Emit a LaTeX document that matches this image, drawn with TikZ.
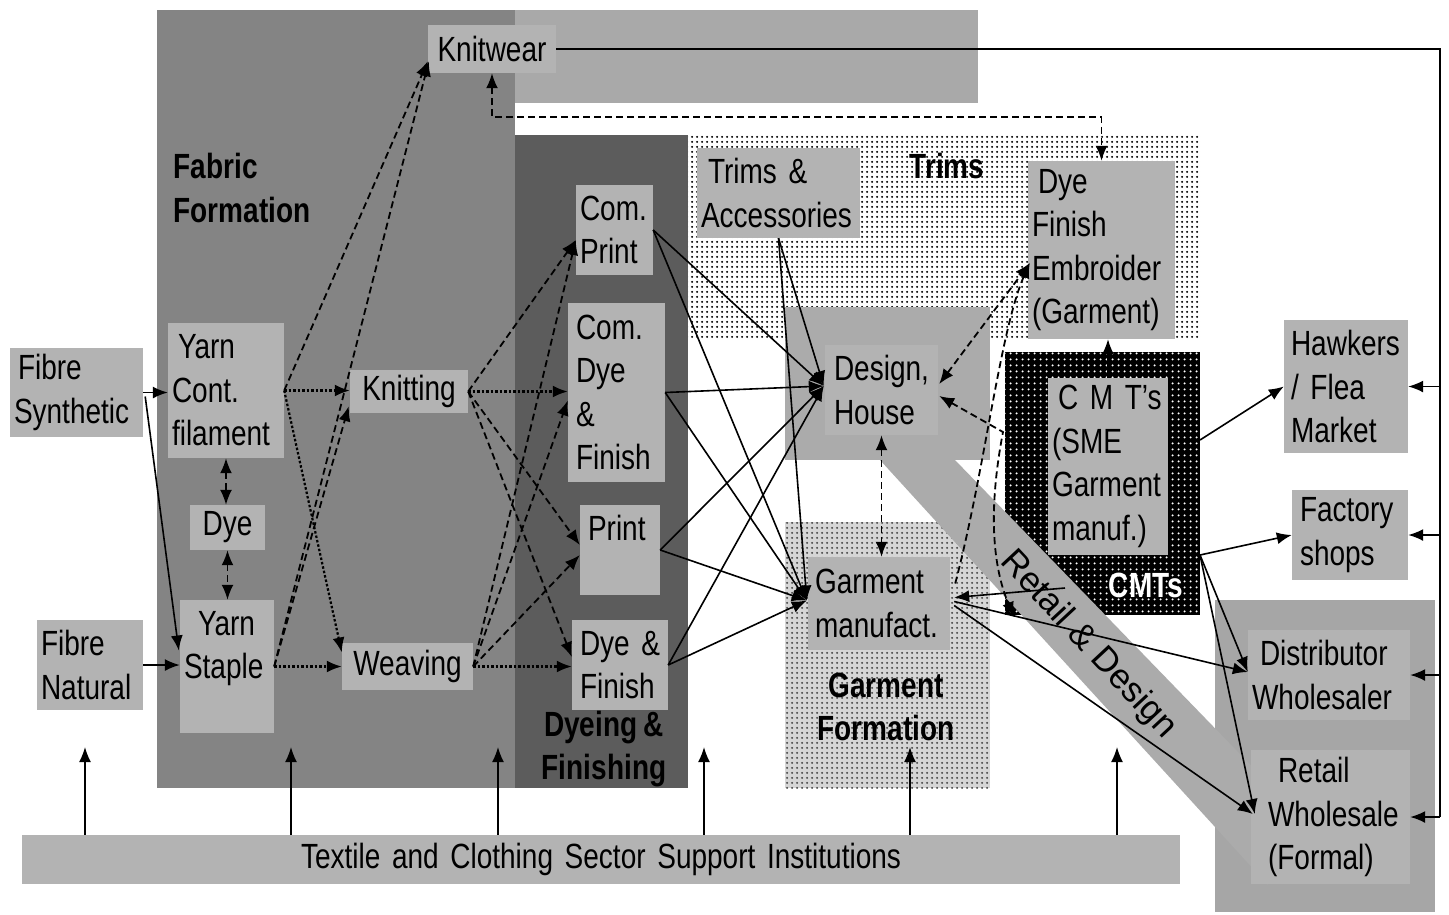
\documentclass[tikz,border=0pt]{standalone}
\usepackage{fontspec}
\setmainfont{Liberation Sans}[FakeStretch=0.8, WordSpace=0.8]
\newfontfamily\widesans{Liberation Sans}
\usetikzlibrary{arrows.meta,calc,patterns.meta}

\definecolor{boxgray}{HTML}{B3B3B3}
\definecolor{fabricgray}{HTML}{848484}
\definecolor{stripgray}{HTML}{A9A9A9}
\definecolor{dyeinggray}{HTML}{5C5C5C}
\definecolor{designgray}{HTML}{ABABAB}
\definecolor{garmentgray}{HTML}{D6D6D6}
\definecolor{retailgray}{HTML}{A6A6A6}

\newcommand\boxfont{\fontsize{35}{43.5}\selectfont}

% dot screens used for the textured areas
\tikzdeclarepattern{
  name=smalldots, type=uncolored,
  bounding box={(0pt,0pt) and (5pt,5pt)},
  tile size={(5pt,5pt)},
  code={\pgfpathcircle{\pgfqpoint{2.5pt}{2.5pt}}{1.35pt}\pgfusepath{fill}}
}
\tikzdeclarepattern{
  name=widedots, type=uncolored,
  bounding box={(0pt,0pt) and (6pt,6pt)},
  tile size={(6pt,6pt)},
  code={\pgfpathcircle{\pgfqpoint{3pt}{3pt}}{1.3pt}\pgfusepath{fill}}
}

\begin{document}
\begin{tikzpicture}[x=1pt,y=-1pt,
  box/.style={fill=boxgray, inner xsep=4pt, inner ysep=0pt, align=left, font=\boxfont},
  cbox/.style={box, align=center},
  tag/.style={font=\boxfont\bfseries, inner sep=0pt},
  arw/.style={-{Latex[length=15pt,width=12pt]}},
  arwtwo/.style={{Latex[length=15pt,width=12pt]}-{Latex[length=15pt,width=12pt]}},
  ln/.style={line width=1.6pt},
  dashln/.style={line width=1.8pt, dash pattern=on 7pt off 4pt},
  dotln/.style={line width=2.2pt, dash pattern=on 2.5pt off 2pt},
]
\useasboundingbox (0,0) rectangle (1449,914);
\fill[white] (0,0) rectangle (1449,914);

% ---- sector areas ----
\fill[fabricgray] (157,10) rectangle (515,788);
\fill[stripgray] (515,10) rectangle (978,103);
\fill[dyeinggray] (515,135) rectangle (688,788);
\fill[white] (688,135) rectangle (1200,338);
\fill[pattern=smalldots, pattern color=black] (688,135) rectangle (1200,338);
\fill[designgray] (785,307) rectangle (990,460);
\fill[garmentgray] (785,522) rectangle (990,788);
\fill[pattern=smalldots, pattern color=black!70] (785,522) rectangle (990,788);
\fill[black] (1005,352) rectangle (1200,615);
\fill[pattern=widedots, pattern color=white] (1005,352) rectangle (1200,615);
\fill[retailgray] (1215,600) rectangle (1435,912);
% Retail & Design band
\fill[designgray] (880,460) -- (955,460) -- (1268,783) -- (1268,885) -- cycle;

% ---- sector titles ----
\node[tag, align=left] (tfabric) at (242,188) {Fabric\\Formation};
\node[tag] (ttrims) at (947,166) {Trims};
\node[tag, align=center] (tdyeing) at (604,749) {Dyeing \&\\Finishing};
\node[tag, align=center] (tgarment) at (886,707) {Garment\\Formation};
\node[tag, text=white] (tcmt) at (1146,585) {CMTs};
\node[font=\widesans\boxfont, rotate=-47, inner sep=0pt] (tband) at (1088,645) {Retail \& Design};

% ---- boxes ----
\node[box, text width=125pt, minimum height=89pt] (fsyn) at (76.5,392.5) {\hspace*{4pt}Fibre\\Synthetic};
\node[box, text width=98pt, minimum height=90pt] (fnat) at (90,665) {Fibre\\Natural};
\node[box, text width=108pt, minimum height=135pt] (ycf) at (226,390.5) {\hspace*{6pt}Yarn\\Cont.\\filament};
\node[cbox, text width=67pt, minimum height=45pt] (dye) at (227.5,527.5) {Dye};
\node[box, text width=86pt, minimum height=133pt] (ystaple) at (227,666.5) {\hspace*{14pt}Yarn\\Staple\\\mbox{}};
\node[cbox, text width=110pt, minimum height=43pt] (knit) at (409,391.5) {Knitting};
\node[cbox, text width=123pt, minimum height=47pt] (weave) at (407.5,666.5) {Weaving};
\node[cbox, text width=120pt, minimum height=48pt] (knitwear) at (492,49) {Knitwear};
\node[box, text width=69pt, minimum height=90pt] (cprint) at (614.5,230) {Com.\\Print};
\node[box, text width=89pt, minimum height=179pt] (cdye) at (616.5,392.5) {\hspace*{4pt}Com.\\\hspace*{4pt}Dye\\\hspace*{4pt}\&\\\hspace*{4pt}Finish};
\node[box, text width=72pt, minimum height=90pt] (print) at (620,550) {\hspace*{4pt}Print\\\mbox{}};
\node[box, text width=88pt, minimum height=90pt] (dyefin) at (620,665) {\hspace*{4pt}Dye \&\\\hspace*{4pt}Finish};
\node[box, text width=155pt, minimum height=90pt] (trims) at (778.5,193) {\hspace*{7pt}Trims \&\\Accessories};
\node[box, text width=105pt, minimum height=90pt] (design) at (881.5,390) {\hspace*{5pt}Design,\\\hspace*{5pt}House};
\node[box, text width=134pt, minimum height=93pt] (garment) at (879,603.5) {\hspace*{3pt}Garment\\\hspace*{3pt}manufact.};
\node[box, text width=139pt, minimum height=178pt] (dfe) at (1101.5,250) {\hspace*{6pt}Dye\\Finish\\Embroider\\(Garment)};
\node[box, text width=112pt, minimum height=177pt] (cmt) at (1108,466.5) {\hspace*{6pt}C\ M\ T's\\(SME\\Garment\\manuf.)};
\node[box, text width=116pt, minimum height=133pt] (hawk) at (1346,386.5) {\hspace*{3pt}Hawkers\\\hspace*{3pt}/ Flea\\\hspace*{3pt}Market};
\node[box, text width=108pt, minimum height=90pt] (fshop) at (1350,535) {\hspace*{4pt}Factory\\\hspace*{4pt}shops};
\node[box, text width=154pt, minimum height=90pt] (dist) at (1329,675) {\hspace*{8pt}Distributor\\Wholesaler};
\node[box, text width=151pt, minimum height=134pt] (retail) at (1330.5,817) {\hspace*{23pt}Retail\\\hspace*{13pt}Wholesale\\\hspace*{13pt}(Formal)};
\node[cbox, text width=1150pt, minimum height=49pt] (bar) at (601,859.5) {Textile and Clothing Sector Support Institutions};

% ---- fixed points on area edges ----
\coordinate (s1) at (85,747);
\coordinate (s2) at (291,747);
\coordinate (s3) at (498,747);
\coordinate (s4) at (704,747);
\coordinate (s5) at (910,747);
\coordinate (s6) at (1117,747);
\coordinate (bus) at (1440,48);
\coordinate (cmtleft) at (1003,432);
\coordinate (cmtlow) at (1065,588);
\coordinate (cmtup) at (1200,440);
\coordinate (cmtdown) at (1200,555);
\coordinate (gmtick) at (1014,617);

% ---- support institutions feed every stage ----
\foreach \s in {s1,s2,s3,s4,s5,s6}
  \draw[ln, arw] (bar.north -| \s) -- (\s);

% ---- fibre and yarn ----
\draw[ln, arw] (fsyn.east) -- (fsyn.east -| ycf.west);
\draw[ln, arw] ($(fsyn.east)+(2,4)$) -- ($(ystaple.west)+(-1,-16)$);
\draw[ln, arw] (fnat.east) -- (fnat.east -| ystaple.west);
\draw[dashln, arwtwo] (ycf.south) -- (ycf.south |- dye.north);
\draw[dashln, arwtwo] (dye.south) -- (dye.south |- ystaple.north);

% ---- yarn to fabric ----
\draw[dotln, arw] (ycf.east) -- (ycf.east -| knit.west);
\draw[dashln, arw] (ycf.east) -- ($(knitwear.south west)+(0,-12)$);
\draw[dotln, arw] (ycf.east) -- ($(weave.west)+(0,-14)$);
\draw[dotln, arw] (ystaple.east) -- (ystaple.east -| weave.west);
\draw[dashln, arw] (ystaple.east) -- ($(knit.south west)+(-1,-7)$);
\draw[dashln, arw] (ystaple.east) -- ($(knitwear.south west)+(1,-12)$);

% ---- fabric to dyeing and finishing ----
\draw[dashln, arw] (knit.east) -- ($(cprint.west)+(0,10)$);
\draw[dotln, arw] (knit.east) -- (knit.east -| cdye.west);
\draw[dashln, arw] (knit.east) -- ($(print.west)+(0,-5)$);
\draw[dashln, arw] (knit.east) -- ($(dyefin.west)+(0,-8)$);
\draw[dashln, arw] (weave.east) -- ($(cprint.west)+(0,10)$);
\draw[dashln, arw] (weave.east) -- ($(cdye.west)+(0,8)$);
\draw[dashln, arw] (weave.east) -- ($(print.west)+(0,5)$);
\draw[dotln, arw] (weave.east) -- (weave.east -| dyefin.west);

% ---- into design house and garment manufacture ----
\foreach \n/\a in {cprint/east, cdye/east, print/east, dyefin/east, trims/south} {
  \draw[ln, arw] (\n.\a) -- ($(design.west)+(-1,-4)$);
  \draw[ln, arw] (\n.\a) -- ($(garment.west)+(-1,-3)$);
}
\draw[dashln, arwtwo] (design.south) -- (design.south |- garment.north);
\draw[dashln, arwtwo] ($(design.east)+(1,-6)$) -- ($(dfe.west)+(2,13)$);
\draw[dashln, arw] ($(garment.east)+(5,-20)$) .. controls (985,470) and (1000,330) .. ($(dfe.west)+(2,13)$);
\draw[dashln, arwtwo] ($(design.east)+(1,6)$) -- (cmtleft) .. controls (990,500) and (990,560) .. (gmtick);
\draw[ln, arw] (cmt.north) -- (cmt.north |- dfe.south);
\draw[ln, arw] (cmtlow) -- ($(garment.east)+(4,-6)$);

% ---- garment makers to retail ----
\draw[ln, arw] ($(garment.east)+(4,-2)$) -- ($(dist.west)+(0,-3)$);
\draw[ln, arw] ($(garment.east)+(4,2)$) -- ($(retail.west)+(2,-3)$);
\draw[ln, arw] (cmtup) -- (hawk.west);
\draw[ln, arw] (cmtdown) -- (fshop.west);
\draw[ln, arw] (cmtdown) -- ($(dist.west)+(0,-3)$);
\draw[ln, arw] (cmtdown) -- ($(retail.west)+(4,-3)$);

% ---- knitwear ----
\draw[dashln, arwtwo] (knitwear.south) -- ++(0,44) -| (dfe.north);
\draw[ln] (knitwear.east) -| (bus |- retail.east);
\foreach \n in {hawk, fshop, dist, retail}
  \draw[ln, arw] (bus |- \n.east) -- (\n.east);
\end{tikzpicture}
\end{document}
